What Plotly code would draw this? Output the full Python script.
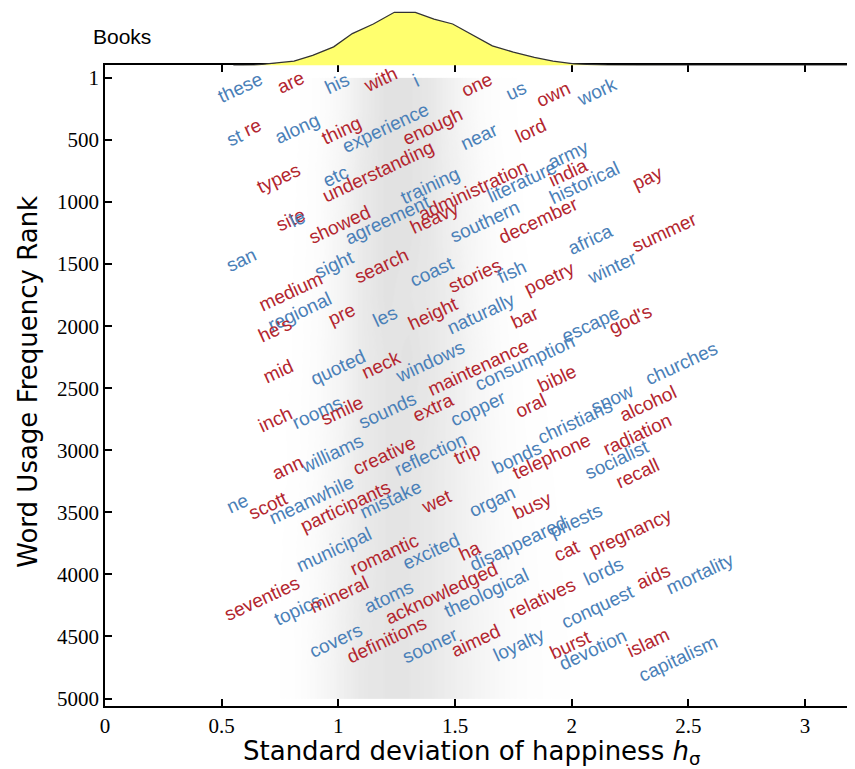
import plotly.graph_objects as go

# ---------------- data ----------------
words = ["these", "are", "his", "with", "i", "one", "us", "own", "work",
         "st", "re", "along", "thing", "experience", "enough", "near", "lord",
         "types", "etc", "understanding", "training", "administration", "literature",
         "army", "india", "historical", "pay",
         "site", "le", "showed", "agreement", "heavy", "southern", "december",
         "san", "africa", "summer",
         "sight", "search", "coast", "stories", "fish", "poetry", "winter",
         "medium", "regional", "he's", "pre", "les", "height", "naturally", "bar",
         "escape", "god's",
         "mid", "quoted", "neck", "windows", "maintenance", "consumption",
         "inch", "rooms", "smile", "sounds", "extra", "copper", "oral", "bible",
         "snow", "churches", "alcohol", "christians", "radiation", "socialist", "recall",
         "bonds", "telephone", "trip", "reflection", "creative", "williams", "ann",
         "ne", "scott", "meanwhile", "participants", "mistake", "wet", "organ", "busy",
         "priests", "disappeared", "municipal", "romantic", "excited", "ha", "cat",
         "pregnancy", "seventies", "topics", "mineral", "atoms", "acknowledged",
         "theological", "relatives", "lords", "aids", "mortality", "conquest",
         "covers", "definitions", "sooner", "aimed", "loyalty", "burst", "devotion",
         "islam", "capitalism"]

h_sigma = [0.579, 0.793, 0.994, 1.179, 1.333, 1.594, 1.762, 1.920, 2.109,
           0.557, 0.630, 0.823, 1.012, 1.204, 1.402, 1.603, 1.826,
           0.742, 0.986, 1.170, 1.393, 1.577, 1.787,
           1.985, 1.985, 2.057, 2.327,
           0.797, 0.827, 1.007, 1.213, 1.414, 1.629, 1.856,
           0.587, 2.079, 2.396,
           0.982, 1.187, 1.402, 1.586, 1.745, 1.903, 2.173,
           0.797, 0.836, 0.729, 1.012, 1.200, 1.406, 1.612, 1.800,
           2.079, 2.250,
           0.742, 0.999, 1.187, 1.393, 1.599, 1.800,
           0.729, 0.909, 1.016, 1.209, 1.406, 1.599, 1.826, 1.937,
           2.177, 2.469, 2.327, 2.015, 2.280, 2.195, 2.280,
           1.766, 1.912, 1.552, 1.393, 1.196, 0.973, 0.784,
           0.566, 0.699, 0.887, 1.029, 1.222, 1.419, 1.659, 1.830,
           2.019, 1.770, 0.982, 1.196, 1.397, 1.565, 1.980,
           2.250, 0.673, 0.827, 1.003, 1.217, 1.440,
           1.637, 1.873, 2.135, 2.349, 2.550, 2.113,
           0.990, 1.209, 1.393, 1.590, 1.775, 1.997, 2.092,
           2.327, 2.456]

rank = [79, 39, 47, 15, 23, 55, 103, 135, 111,
        482, 401, 409, 425, 401, 393, 474, 425,
        812, 796, 756, 869, 909, 836,
        619, 764, 845, 804,
        1143, 1136, 1185, 1144, 1127, 1159, 1151,
        1465, 1304, 1248,
        1505, 1513, 1562, 1594, 1562, 1618, 1529,
        1723, 1884, 2029, 1908, 1924, 1900, 1900, 1932,
        1989, 1948,
        2367, 2335, 2311, 2287, 2335, 2295,
        2754, 2698, 2682, 2682, 2658, 2666, 2641, 2424,
        2585, 2303, 2625, 2770, 2875, 3077, 3189,
        3060, 3052, 3029, 3037, 3045, 3029, 3141,
        3431, 3447, 3399, 3455, 3399, 3415, 3415, 3447,
        3568, 3753, 3802, 3842, 3818, 3810, 3810,
        3665, 4197, 4285, 4164, 4180, 4156,
        4148, 4197, 3979, 4019, 3995, 4261,
        4535, 4527, 4575, 4535, 4567, 4567, 4608,
        4551, 4680]

# 'r' = red word, 'b' = blue word
tone = ["b", "r", "b", "r", "b", "r", "b", "r", "b",
        "b", "r", "b", "r", "b", "r", "b", "r",
        "r", "b", "r", "b", "r", "b",
        "b", "r", "b", "r",
        "r", "b", "r", "b", "r", "b", "r",
        "b", "b", "r",
        "b", "r", "b", "r", "b", "r", "b",
        "r", "b", "r", "r", "b", "r", "b", "r",
        "b", "r",
        "r", "b", "r", "b", "r", "b",
        "r", "b", "r", "b", "r", "b", "r", "r",
        "b", "b", "r", "b", "r", "b", "r",
        "b", "r", "r", "b", "r", "b", "r",
        "b", "r", "b", "r", "b", "r", "b", "r",
        "b", "b", "b", "r", "b", "r", "r",
        "r", "r", "b", "r", "b", "r",
        "b", "r", "b", "r", "b", "b",
        "b", "r", "b", "r", "b", "r", "b",
        "r", "b"]

# marginal distribution of h_sigma (top panel), relative height
dens_h = [0.55, 0.64, 0.81, 0.89, 0.98, 1.06, 1.15, 1.24, 1.33, 1.41, 1.49,
          1.58, 1.66, 1.75, 1.84, 1.92, 2.01, 2.15, 2.40, 3.21]
dens_v = [0, 0.005, 0.08, 0.19, 0.35, 0.60, 0.78, 1.0, 1.0, 0.87, 0.78,
          0.57, 0.37, 0.25, 0.15, 0.08, 0.03, 0.005, 0, 0]

# density of the grey background cloud of all words (rank band x h_sigma bin)
cloud_h = [0.6, 0.7, 0.8, 0.9, 1.0, 1.1, 1.2, 1.3, 1.4, 1.5, 1.6, 1.7, 1.8,
           1.9, 2.0, 2.1, 2.2, 2.3, 2.4, 2.5]
cloud_rank = [250, 750, 1250, 1750, 2250, 2750, 3250, 3750, 4250, 4750]
cloud_z = [
    [0, 0.00, 0.05, 0.25, 0.50, 0.80, 1.00, 1.00, 0.90, 0.65, 0.40, 0.20, 0.08, 0.02, 0.00, 0.00, 0.00, 0.00, 0.00, 0],
    [0, 0.00, 0.08, 0.30, 0.55, 0.85, 1.00, 1.00, 0.90, 0.70, 0.45, 0.25, 0.10, 0.04, 0.01, 0.00, 0.00, 0.00, 0.00, 0],
    [0, 0.02, 0.10, 0.30, 0.60, 0.85, 1.00, 1.00, 0.90, 0.70, 0.50, 0.30, 0.12, 0.05, 0.02, 0.00, 0.00, 0.00, 0.00, 0],
    [0, 0.02, 0.12, 0.32, 0.60, 0.85, 1.00, 0.95, 0.90, 0.75, 0.50, 0.32, 0.15, 0.07, 0.03, 0.01, 0.00, 0.00, 0.00, 0],
    [0, 0.03, 0.12, 0.35, 0.60, 0.85, 0.95, 1.00, 0.90, 0.75, 0.55, 0.35, 0.20, 0.10, 0.04, 0.02, 0.00, 0.00, 0.00, 0],
    [0, 0.03, 0.15, 0.35, 0.60, 0.85, 0.95, 0.95, 0.90, 0.75, 0.55, 0.38, 0.22, 0.12, 0.06, 0.03, 0.01, 0.00, 0.00, 0],
    [0, 0.04, 0.15, 0.38, 0.62, 0.85, 0.95, 0.95, 0.88, 0.75, 0.58, 0.40, 0.25, 0.14, 0.07, 0.03, 0.01, 0.00, 0.00, 0],
    [0, 0.04, 0.18, 0.40, 0.65, 0.85, 0.95, 0.95, 0.88, 0.75, 0.60, 0.42, 0.28, 0.16, 0.09, 0.04, 0.02, 0.00, 0.00, 0],
    [0, 0.05, 0.20, 0.42, 0.68, 0.88, 0.95, 0.95, 0.88, 0.75, 0.60, 0.45, 0.30, 0.18, 0.10, 0.05, 0.02, 0.01, 0.00, 0],
    [0, 0.05, 0.20, 0.45, 0.70, 0.90, 0.95, 0.95, 0.88, 0.75, 0.62, 0.45, 0.30, 0.20, 0.12, 0.06, 0.03, 0.01, 0.00, 0],
]

x_ticks = [0, 0.5, 1, 1.5, 2, 2.5, 3]
x_tick_text = ["0", "0.5", "1", "1.5", "2", "2.5", "3"]
y_ticks = [1, 500, 1000, 1500, 2000, 2500, 3000, 3500, 4000, 4500, 5000]
y_tick_text = ["1", "500", "1000", "1500", "2000", "2500", "3000", "3500", "4000", "4500", "5000"]

# ---------------- style ----------------
RED = "#b3262f"
BLUE = "#4a80b8"
tone_color = {"r": RED, "b": BLUE}
OFF = 8                      # page body margin in the browser
W, H = 855 - OFF, 769 - OFF
# plot box in window pixels: left 105, right 854, top 65.5, bottom 706.5
M_L = 105 - OFF
M_R = W - (854 - OFF)
M_T = 0
M_B = H - (706.5 - OFF)
PW, PH = W - M_L - M_R, H - M_T - M_B
main_top = ((706.5 - OFF) - (65.5 - OFF)) / PH


def px_to_paper(px, py):
    # window pixel -> paper coords
    return (px - OFF - M_L) / PW, (H - M_B - (py - OFF)) / PH


fig = go.Figure()

fig.add_trace(go.Heatmap(
    x=cloud_h, y=cloud_rank, z=cloud_z, zsmooth="best",
    colorscale=[[0, "rgba(255,255,255,0)"], [1, "rgb(226,226,226)"]],
    zmin=0, zmax=1, showscale=False, hoverinfo="skip",
    xaxis="x", yaxis="y"))

fig.add_trace(go.Scatter(
    x=dens_h, y=dens_v, mode="lines", fill="tozeroy",
    fillcolor="#ffff6e", line=dict(color="#333333", width=1.3),
    xaxis="x2", yaxis="y2", hoverinfo="skip", showlegend=False))

SANS = "Liberation Sans, Arial, sans-serif"
annotations = []
for w, hx, rk, tn in zip(words, h_sigma, rank, tone):
    annotations.append(dict(
        x=hx, y=rk, xref="x", yref="y", text=w, showarrow=False,
        textangle=-25, xanchor="center", yanchor="middle",
        font=dict(family=SANS, size=19, color=tone_color[tn])))

bx, by = px_to_paper(122, 37)
annotations.append(dict(
    x=bx, y=by, xref="paper", yref="paper", text="Books", showarrow=False,
    xanchor="center", yanchor="middle",
    font=dict(family=SANS, size=21, color="black")))

tx, ty = px_to_paper(471, 753)
annotations.append(dict(
    x=tx, y=ty, xref="paper", yref="paper",
    text="Standard deviation of happiness <i>h</i><sub>σ</sub>", showarrow=False,
    xanchor="center", yanchor="middle",
    font=dict(family="DejaVu Sans, sans-serif", size=26, color="black")))

yx, yy = px_to_paper(28, 382)
annotations.append(dict(
    x=yx, y=yy, xref="paper", yref="paper",
    text="Word Usage Frequency Rank", showarrow=False, textangle=-90,
    xanchor="center", yanchor="middle",
    font=dict(family="DejaVu Sans, sans-serif", size=26, color="black")))

axis_common = dict(showline=True, linecolor="black", linewidth=1.5,
                   ticks="inside", ticklen=7, tickwidth=1.5, tickcolor="black",
                   mirror="ticks", showgrid=False, zeroline=False, automargin=False,
                   tickfont=dict(family="Liberation Serif, Times New Roman, serif",
                                 size=21, color="black"))

fig.update_layout(
    width=W, height=H,
    margin=dict(l=M_L, r=M_R, t=M_T, b=M_B, autoexpand=False),
    paper_bgcolor="white", plot_bgcolor="rgba(0,0,0,0)",
    showlegend=False,
    xaxis=dict(range=[0, 3.21], tickvals=x_ticks, ticktext=x_tick_text,
               domain=[0, 1], anchor="y", **axis_common),
    yaxis=dict(range=[5060, -100], tickvals=y_ticks, ticktext=y_tick_text,
               domain=[0, main_top], anchor="x", **axis_common),
    xaxis2=dict(range=[0, 3.21], domain=[0, 1], anchor="y2", visible=False),
    yaxis2=dict(range=[0, 1.0 / ((65.5 - 12.3) / (65.5 - OFF))],
                domain=[main_top, 1], anchor="x2", visible=False),
    annotations=annotations,
)

fig.write_html("out.html")
